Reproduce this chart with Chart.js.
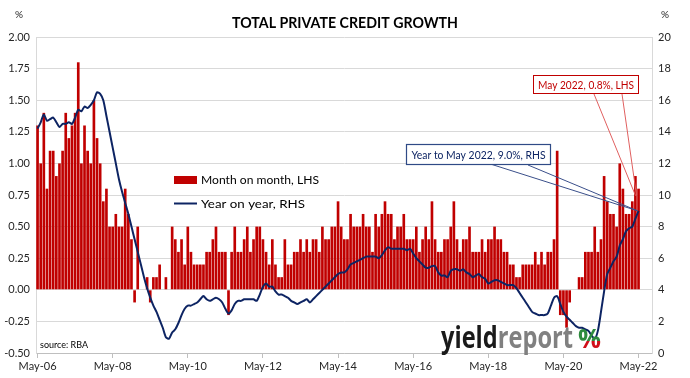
<!DOCTYPE html>
<html>
<head>
<meta charset="utf-8">
<script src="https://cdn.jsdelivr.net/npm/chart.js@4.4.1/dist/chart.umd.min.js"></script>
<style>
html,body{margin:0;padding:0;background:#ffffff;}
#wrap{width:690px;height:378px;position:relative;}
</style>
</head>
<body>
<div id="wrap"><canvas id="c" width="690" height="378"></canvas></div>
<script>
// ---- DATA ----
const tickMonths = [0, 24, 48, 72, 96, 120, 144, 168, 192];
const tickLabels = ['May-06','May-08','May-10','May-12','May-14','May-16','May-18','May-20','May-22'];
const leftTicks = [-0.5, 2.0, 0.25];
const rightTicks = [0, 20, 2];

// Month on month, LHS (May-06 .. May-22)
const monthOnMonth = [
 1.3,1.0,1.4,0.8,1.1,1.1,0.9,1.0,1.1,1.4,1.2,1.3,1.4,1.8,1.0,1.3,1.1,1.0,1.5,1.2,1.0,0.7,0.8,0.5,
 0.5,0.6,0.5,0.5,0.8,0.6,0.4,-0.1,0.5,0.0,0.0,0.1,-0.1,0.1,0.1,0.2,0.0,0.1,0.0,0.5,0.4,0.3,0.4,0.2,
 0.5,0.3,0.2,0.2,0.2,0.2,0.3,0.3,0.4,0.5,0.3,0.3,0.3,-0.2,0.3,0.5,0.3,0.3,0.4,0.5,0.3,0.4,0.5,0.5,
 0.4,0.3,0.2,0.4,0.2,0.1,0.1,0.4,0.2,0.2,0.3,0.3,0.4,0.3,0.4,0.3,0.4,0.4,0.3,0.5,0.4,0.4,0.5,0.5,
 0.7,0.5,0.4,0.4,0.6,0.5,0.5,0.5,0.6,0.5,0.5,0.3,0.6,0.5,0.6,0.7,0.6,0.6,0.4,0.5,0.5,0.6,0.4,0.4,
 0.4,0.5,0.3,0.4,0.5,0.4,0.7,0.4,0.3,0.3,0.4,0.4,0.5,0.7,0.4,0.3,0.4,0.4,0.5,0.3,0.3,0.3,0.4,0.3,
 0.4,0.4,0.5,0.4,0.4,0.3,0.3,0.2,0.2,0.1,0.1,0.2,0.2,0.2,0.2,0.3,0.2,0.3,0.2,0.3,0.3,0.4,1.1,
 -0.2,-0.2,-0.3,-0.1,0.0,0.0,0.1,0.1,0.3,0.3,0.3,0.5,0.3,0.4,0.9,0.7,0.6,0.6,0.5,1.0,0.8,0.6,0.6,0.7,0.9,0.8
];

// Year on year, RHS
const yearOnYear = [
 14.2,14.6,15.1,14.7,14.8,14.9,14.6,14.3,14.5,14.5,14.6,14.5,
 14.9,15.4,15.3,15.6,15.5,15.7,16.0,16.5,16.4,16.0,15.0,14.0,
 13.0,12.0,11.0,10.2,9.5,8.8,8.0,7.2,6.4,5.6,4.8,4.1,
 3.5,3.0,2.6,2.1,1.6,1.0,0.9,1.3,1.5,1.9,2.4,2.8,
 3.0,3.0,3.1,3.2,3.4,3.6,3.4,3.3,3.4,3.5,3.4,3.2,
 2.8,2.5,2.7,3.1,3.3,3.3,3.4,3.4,3.4,3.4,3.3,3.7,
 4.2,4.4,4.2,4.2,3.9,3.7,3.7,3.6,3.5,3.3,3.2,3.1,
 3.2,3.3,3.4,3.2,3.4,3.6,3.8,4.0,4.2,4.4,4.6,4.8,
 5.0,5.1,5.1,5.3,5.6,5.7,5.8,5.9,6.0,6.1,6.1,6.1,
 6.1,6.0,6.2,6.5,6.7,6.6,6.6,6.6,6.6,6.6,6.5,6.6,
 6.3,6.0,5.8,5.6,5.4,5.4,5.5,5.5,5.1,4.9,4.9,4.8,
 5.2,5.3,5.3,5.2,5.3,5.1,5.0,4.8,4.9,5.0,4.8,4.7,
 4.4,4.5,4.6,4.6,4.5,4.4,4.3,4.3,4.3,4.1,3.8,3.5,
 3.2,2.9,2.6,2.5,2.4,2.4,2.4,2.5,3.0,3.5,3.6,3.1,
 2.6,2.3,2.1,1.9,1.7,1.6,1.6,1.5,1.4,1.1,0.9,1.4,
 2.6,3.9,5.0,5.4,5.8,6.1,6.8,7.2,7.7,7.9,8.0,8.5,9.0
];

const seriesNames = ['Month on month, LHS', 'Year on year, RHS'];
const titleText = 'TOTAL PRIVATE CREDIT GROWTH';
const sourceText = 'source: RBA';
const lastMomText = 'May 2022, 0.8%, LHS';
const lastYoyText = 'Year to May 2022, 9.0%, RHS';

// ---- STYLE ----
const RED = '#C00000';
const NAVY = '#0D2463';
const FONT = 'Lato, "Open Sans", sans-serif';
const TXT = '#262626';

function fitText(ctx, text, x, y, font, width, align, color) {
  ctx.save();
  ctx.font = font;
  ctx.fillStyle = color;
  ctx.textBaseline = 'alphabetic';
  ctx.textAlign = 'left';
  const w = ctx.measureText(text).width;
  const s = width / w;
  let x0 = x;
  if (align === 'center') x0 = x - width / 2;
  else if (align === 'right') x0 = x - width;
  ctx.translate(x0, y);
  ctx.scale(s, 1);
  ctx.fillText(text, 0, 0);
  ctx.restore();
}

const overlay = {
  id: 'overlay',
  afterDatasetsDraw(chart) {
    const ctx = chart.ctx;
    const xs = chart.scales.x, ys = chart.scales.y, y1 = chart.scales.y1;
    const last = monthOnMonth.length - 1;
    ctx.save();

    // Title and unit labels
    fitText(ctx, titleText, 345, 28, 'bold 15px ' + FONT, 226, 'center', '#000');
    ctx.save();
    ctx.font = '10px ' + FONT; ctx.fillStyle = TXT; ctx.textAlign = 'center'; ctx.textBaseline = 'middle';
    ctx.fillText('%', 19, 15);
    ctx.fillText('%', 665, 15);
    ctx.restore();

    // Legend (inside plot)
    ctx.fillStyle = RED;
    ctx.fillRect(174, 176, 23, 8);
    ctx.strokeStyle = NAVY; ctx.lineWidth = 2;
    ctx.beginPath(); ctx.moveTo(174, 203.5); ctx.lineTo(197, 203.5); ctx.stroke();
    fitText(ctx, seriesNames[0], 201, 184, '12px ' + FONT, 118, 'left', '#000');
    fitText(ctx, seriesNames[1], 201, 208, '12px ' + FONT, 104, 'left', '#000');

    // Source
    fitText(ctx, sourceText, 40, 348, '9px ' + FONT, 48, 'left', '#000');

    // Logo
    ctx.save();
    ctx.font = 'bold 31px "Open Sans", sans-serif';
    ctx.textAlign = 'left'; ctx.textBaseline = 'alphabetic';
    const w1 = ctx.measureText('yield').width, w2 = ctx.measureText('report').width;
    const sc = 132 / (w1 + w2);
    ctx.translate(441, 348);
    ctx.scale(sc, 1);
    ctx.fillStyle = '#1A1A1A'; ctx.fillText('yield', 0, 0);
    ctx.fillStyle = '#808080'; ctx.fillText('report', w1, 0);
    ctx.restore();
    ctx.save();
    ctx.font = 'bold 26px "Open Sans", sans-serif';
    ctx.textAlign = 'left'; ctx.textBaseline = 'alphabetic';
    const wp = ctx.measureText('%').width;
    ctx.translate(578, 348);
    ctx.scale(23 / wp, 1);
    const g = ctx.createLinearGradient(0, -19, 0, 0);
    g.addColorStop(0, '#2E8B3E'); g.addColorStop(0.62, '#2E8B3E');
    g.addColorStop(0.62, '#D0101A'); g.addColorStop(1, '#D0101A');
    ctx.fillStyle = g;
    ctx.fillText('%', 0, 0);
    ctx.restore();

    // Callout lines
    const xLast = xs.getPixelForValue(last);
    const yBar = ys.getPixelForValue(monthOnMonth[last]);
    const yLine = y1.getPixelForValue(yearOnYear[last]);
    ctx.lineWidth = 1;
    ctx.strokeStyle = '#E06060';
    ctx.beginPath();
    ctx.moveTo(594, 94); ctx.lineTo(xLast - 3, yBar + 7);
    ctx.moveTo(622, 94); ctx.lineTo(xLast - 2, yBar + 7);
    ctx.stroke();
    ctx.strokeStyle = '#3A4F8A';
    ctx.beginPath();
    ctx.moveTo(492, 164.5); ctx.lineTo(xLast - 1, yLine);
    ctx.moveTo(528, 165); ctx.lineTo(xLast - 1, yLine);
    ctx.stroke();

    // Callout boxes
    ctx.fillStyle = '#fff';
    ctx.fillRect(533.5, 75.5, 105, 18);
    ctx.strokeStyle = RED; ctx.lineWidth = 1;
    ctx.strokeRect(533.5, 75.5, 105, 18);
    fitText(ctx, lastMomText, 586, 89, '11.5px ' + FONT, 96, 'center', RED);

    ctx.fillStyle = '#fff';
    ctx.fillRect(406.5, 144.5, 144, 20);
    ctx.strokeStyle = '#2F4A86'; ctx.lineWidth = 1.2;
    ctx.strokeRect(406.5, 144.5, 144, 20);
    fitText(ctx, lastYoyText, 478.5, 159, '12px ' + FONT, 134, 'center', NAVY);

    ctx.restore();
  }
};

const barData = monthOnMonth.map((v, i) => ({ x: i, y: v }));
const lineData = yearOnYear.map((v, i) => ({ x: i, y: v }));
const tickFont = { family: FONT, size: 11 };

new Chart(document.getElementById('c'), {
  type: 'bar',
  data: {
    datasets: [
      {
        type: 'line', label: seriesNames[1], data: lineData, yAxisID: 'y1', xAxisID: 'x',
        borderColor: NAVY, borderWidth: 2, pointRadius: 0, tension: 0.25, fill: false, order: 0
      },
      {
        type: 'bar', label: seriesNames[0], data: barData, yAxisID: 'y', xAxisID: 'x',
        backgroundColor: RED, borderWidth: 0, categoryPercentage: 1.0, barPercentage: 0.85, order: 1
      }
    ]
  },
  options: {
    responsive: false,
    animation: false,
    devicePixelRatio: 1,
    layout: { padding: { top: 37, left: 0, right: 0, bottom: 0 } },
    plugins: { legend: { display: false }, tooltip: { enabled: false }, title: { display: false } },
    scales: {
      x: {
        type: 'linear', position: 'bottom', min: -0.5, max: 196.3, offset: false,
        grid: { display: true, drawOnChartArea: false, drawTicks: true, tickLength: 5, color: '#BFBFBF', offset: false },
        border: { display: true, color: '#BFBFBF' },
        ticks: {
          autoSkip: false, maxRotation: 0, minRotation: 0, padding: 2, color: TXT, font: tickFont,
          callback: (v) => { const k = tickMonths.indexOf(v); return k >= 0 ? tickLabels[k] : ''; }
        },
        afterBuildTicks: (s) => { s.ticks = tickMonths.map(v => ({ value: v })); },
        afterFit: (s) => { s.height = 25; }
      },
      y: {
        type: 'linear', position: 'left', min: leftTicks[0], max: leftTicks[1],
        grid: { color: '#D9D9D9', drawTicks: false },
        border: { display: true, color: '#D9D9D9' },
        ticks: { stepSize: leftTicks[2], padding: 6, color: TXT, font: tickFont, callback: (v) => Number(v).toFixed(2) },
        afterFit: (s) => { s.width = 36; }
      },
      y1: {
        type: 'linear', position: 'right', min: rightTicks[0], max: rightTicks[1],
        grid: { drawOnChartArea: false, drawTicks: false },
        border: { display: true, color: '#D9D9D9' },
        ticks: { stepSize: rightTicks[2], padding: 6, color: TXT, font: tickFont },
        afterFit: (s) => { s.width = 38; }
      }
    }
  },
  plugins: [overlay]
});
</script>
</body>
</html>
